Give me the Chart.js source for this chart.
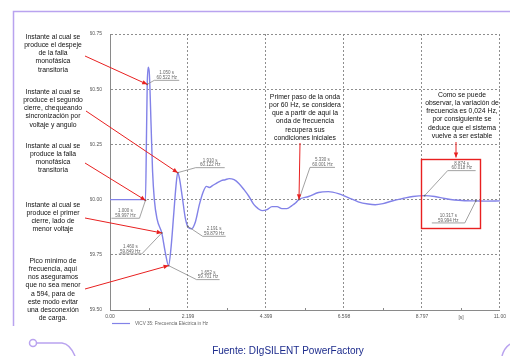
<!DOCTYPE html>
<html>
<head>
<meta charset="utf-8">
<script src="https://cdn.jsdelivr.net/npm/chart.js@4.4.1/dist/chart.umd.min.js"></script>
<style>
  html, body { margin: 0; padding: 0; background: #ffffff; }
  #wrap { position: relative; width: 510px; height: 356px; }
</style>
</head>
<body>
<div id="wrap"><canvas id="c" width="510" height="356"></canvas></div>
<script>
// Simulated frequency at bus VICV 35 (Hz) over time (s)
const times = [0, 0.5, 0.95, 1.000, 1.03, 1.050, 1.08, 1.11, 1.16, 1.20, 1.25, 1.33, 1.460, 1.56, 1.652,
  1.72, 1.80, 1.86, 1.910, 1.96, 2.04, 2.12, 2.191, 2.30, 2.41, 2.52, 2.63, 2.72, 2.80, 2.89, 3.03, 3.14,
  3.25, 3.36, 3.50, 3.64, 3.78, 3.92, 4.06, 4.17, 4.29, 4.43, 4.57, 4.71, 4.85, 4.99, 5.13, 5.24, 5.330,
  5.60, 5.88, 6.16, 6.44, 6.72, 7.00, 7.28, 7.48, 7.70, 7.98, 8.26, 8.54, 8.874, 9.16, 9.44, 9.72, 10.00,
  10.317, 10.60, 10.997];
const freqHz = [60.0, 60.0, 60.0, 59.997, 60.30, 60.522, 60.60, 60.57, 60.33, 60.13, 60.0, 59.91, 59.849, 59.76, 59.701,
  59.78, 59.94, 60.06, 60.122, 60.095, 60.01, 59.92, 59.879, 59.868, 59.90, 59.977, 60.036, 60.06, 60.055, 60.063, 60.077, 60.086,
  60.09, 60.095, 60.09, 60.072, 60.045, 60.014, 59.977, 59.96, 59.95, 59.955, 59.968, 59.968, 59.959, 59.959, 59.973, 59.986, 60.001,
  60.014, 60.032, 60.036, 60.027, 60.009, 59.99, 59.98, 59.977, 59.982, 59.995, 60.005, 60.014, 60.018, 60.014, 60.005, 59.998, 59.995,
  59.994, 59.993, 59.994];

// Marked points (time s, frequency Hz)
const markerTimes = [1.000, 1.050, 1.460, 1.652, 1.910, 2.191, 5.330, 8.874, 10.317];
const markerFreqs = [59.997, 60.522, 59.849, 59.701, 60.122, 59.879, 60.001, 60.018, 59.994];

// Axis ticks
const xTicks = [0, 2.1994, 4.3988, 6.5982, 8.7976, 10.997];
const xTickLabels = ['0.00', '2.199', '4.399', '6.598', '8.797', '11.00'];
const yTicks = [59.50, 59.75, 60.00, 60.25, 60.50, 60.75];
const yTickLabels = ['59.50', '59.75', '60.00', '60.25', '60.50', '60.75'];

const seriesName = 'VICV 35: Frecuencia Eléctrica in Hz';
const sourceText = 'Fuente: DIgSILENT PowerFactory';

// Placement of each marker's value label relative to its point (px)
const markerLabelLayout = [
  { x0: -34, x1: -6,  dy: 18,  end: 'R' },
  { x0: 7,   x1: 32,  dy: -4,  end: 'L' },
  { x0: -43, x1: -20, dy: 21,  end: 'R' },
  { x0: 28,  x1: 51,  dy: 14,  end: 'L' },
  { x0: 18,  x1: 47,  dy: -5,  end: 'L' },
  { x0: 15,  x1: 38,  dy: 10,  end: 'L' },
  { x0: 11,  x1: 36,  dy: -32, end: 'L' },
  { x0: 23,  x1: 51,  dy: -25, end: 'L' },
  { x0: -44, x1: -11, dy: 22,  end: 'R' }
];

// Explanatory notes: text lines, text centre, first line y, arrow start, index of marker pointed to
const notes = [
  { lines: ['Instante al cual se', 'produce el despeje', 'de la falla', 'monofásica', 'transitoria'],
    cx: 53, y0: 37, from: [85, 56], marker: 1 },
  { lines: ['Instante al cual se', 'produce el segundo', 'cierre, chequeando', 'sincronización por', 'voltaje y angulo'],
    cx: 53, y0: 92, from: [86, 111], marker: 4 },
  { lines: ['Instante al cual se', 'produce la falla', 'monofásica', 'transitoria'],
    cx: 53, y0: 146, from: [85, 163], marker: 0 },
  { lines: ['Instante al cual se', 'produce el primer', 'cierre, lado de', 'menor voltaje'],
    cx: 53, y0: 205, from: [85, 218], marker: 2 },
  { lines: ['Pico mínimo de', 'frecuencia, aquí', 'nos aseguramos', 'que no sea menor', 'a 594, para de',
            'este modo evitar', 'una desconexión', 'de carga.'],
    cx: 53, y0: 261, from: [85, 289], marker: 3 },
  { lines: ['Primer paso de la onda', 'por 60 Hz, se considera', 'que a partir de aquí la', 'onda de frecuencia',
            'recupera sus', 'condiciones iniciales'],
    cx: 305, y0: 97, from: [300, 143], marker: 6 }
];
const stabilityNote = ['Como se puede', 'observar, la variación de', 'frecuencia es 0,024 Hz,',
  'por consiguiente se', 'deduce que el sistema', 'vuelve a ser estable'];
// Highlighted region around the last two markers (data units)
const stabilityBox = { t0: 8.77, t1: 10.42, f0: 59.873, f1: 60.186 };

const FONT = 'Arial, "Liberation Sans", Helvetica, sans-serif';
const RED = '#e82020';
const FRAME = '#b9a3ef';
const LINE = '#8282e8';

function arrow(ctx, x1, y1, x2, y2) {
  ctx.save();
  ctx.strokeStyle = RED;
  ctx.fillStyle = RED;
  ctx.lineWidth = 1;
  ctx.beginPath();
  ctx.moveTo(x1, y1);
  ctx.lineTo(x2, y2);
  ctx.stroke();
  const a = Math.atan2(y2 - y1, x2 - x1);
  const L = 5, W = 2.2;
  ctx.beginPath();
  ctx.moveTo(x2, y2);
  ctx.lineTo(x2 - L * Math.cos(a) + W * Math.sin(a), y2 - L * Math.sin(a) - W * Math.cos(a));
  ctx.lineTo(x2 - L * Math.cos(a) - W * Math.sin(a), y2 - L * Math.sin(a) + W * Math.cos(a));
  ctx.closePath();
  ctx.fill();
  ctx.restore();
}

const decorations = {
  id: 'decorations',
  afterDraw(chart) {
    const ctx = chart.ctx;
    const xs = chart.scales.x, ys = chart.scales.y;
    const area = chart.chartArea;

    // page frame
    ctx.save();
    ctx.strokeStyle = FRAME;
    ctx.lineWidth = 1.5;
    ctx.beginPath();
    ctx.moveTo(13.5, 326);
    ctx.lineTo(13.5, 11.5);
    ctx.lineTo(510, 11.5);
    ctx.stroke();
    // bottom-left ornament
    ctx.beginPath();
    ctx.arc(33, 343, 3.5, 0, Math.PI * 2);
    ctx.stroke();
    ctx.beginPath();
    ctx.moveTo(36.5, 343);
    ctx.lineTo(62, 343);
    ctx.quadraticCurveTo(70, 344, 75, 356);
    ctx.stroke();
    // bottom-right ornament
    ctx.beginPath();
    ctx.moveTo(502, 356);
    ctx.quadraticCurveTo(504, 348, 510, 344);
    ctx.stroke();
    ctx.restore();

    // minor ticks on the time axis
    ctx.save();
    ctx.strokeStyle = '#888';
    ctx.lineWidth = 1;
    for (let i = 0; i < xTicks.length - 1; i++) {
      const px = Math.round(xs.getPixelForValue((xTicks[i] + xTicks[i + 1]) / 2)) + 0.5;
      ctx.beginPath();
      ctx.moveTo(px, area.bottom);
      ctx.lineTo(px, area.bottom - 2);
      ctx.stroke();
    }
    ctx.restore();

    // unit label on time axis
    ctx.save();
    ctx.fillStyle = '#555';
    ctx.font = '5px ' + FONT;
    ctx.textAlign = 'center';
    ctx.textBaseline = 'top';
    ctx.fillText('[s]', xs.getPixelForValue(9.9), area.bottom + 5);
    ctx.restore();

    // legend
    ctx.save();
    ctx.strokeStyle = LINE;
    ctx.lineWidth = 1.2;
    ctx.beginPath();
    ctx.moveTo(112, 323.5);
    ctx.lineTo(130, 323.5);
    ctx.stroke();
    ctx.fillStyle = '#666';
    ctx.font = '4.6px ' + FONT;
    ctx.textBaseline = 'middle';
    ctx.fillText(seriesName, 135, 323.5);
    ctx.restore();

    // marker value labels
    ctx.save();
    ctx.strokeStyle = '#8a8a8a';
    ctx.fillStyle = '#666';
    ctx.lineWidth = 0.8;
    ctx.font = '4.5px ' + FONT;
    ctx.textAlign = 'center';
    ctx.textBaseline = 'alphabetic';
    markerTimes.forEach((t, i) => {
      const px = xs.getPixelForValue(t);
      const py = ys.getPixelForValue(markerFreqs[i]);
      const lay = markerLabelLayout[i];
      const ux0 = px + lay.x0, ux1 = px + lay.x1, uy = py + lay.dy;
      ctx.beginPath();
      ctx.moveTo(px, py);
      ctx.lineTo(lay.end === 'L' ? ux0 : ux1, uy);
      ctx.moveTo(ux0, uy);
      ctx.lineTo(ux1, uy);
      ctx.stroke();
      const cx = (ux0 + ux1) / 2;
      ctx.fillText(t.toFixed(3) + ' s', cx, uy - 6);
      ctx.fillText(markerFreqs[i].toFixed(3) + ' Hz', cx, uy - 1.2);
      ctx.beginPath();
      ctx.arc(px, py, 0.9, 0, Math.PI * 2);
      ctx.fill();
    });
    ctx.restore();

    // notes with arrows
    ctx.save();
    ctx.fillStyle = '#111';
    ctx.font = '6.8px ' + FONT;
    ctx.textAlign = 'center';
    ctx.textBaseline = 'middle';
    notes.forEach(n => {
      n.lines.forEach((s, k) => ctx.fillText(s, n.cx, n.y0 + k * 8.2));
      const tx = xs.getPixelForValue(markerTimes[n.marker]);
      const ty = ys.getPixelForValue(markerFreqs[n.marker]);
      arrow(ctx, n.from[0], n.from[1], tx, ty);
    });
    stabilityNote.forEach((s, k) => ctx.fillText(s, 462, 95 + k * 8.2));
    ctx.restore();

    // highlighted stable region
    const bx0 = xs.getPixelForValue(stabilityBox.t0), bx1 = xs.getPixelForValue(stabilityBox.t1);
    const by0 = ys.getPixelForValue(stabilityBox.f1), by1 = ys.getPixelForValue(stabilityBox.f0);
    ctx.save();
    ctx.strokeStyle = RED;
    ctx.lineWidth = 1.4;
    ctx.strokeRect(Math.round(bx0) + 0.5, Math.round(by0) + 0.5, Math.round(bx1 - bx0), Math.round(by1 - by0));
    ctx.restore();
    arrow(ctx, 456, 142, 456, by0 - 1);

    // source line
    ctx.save();
    ctx.fillStyle = '#1c2b8c';
    ctx.font = '10px ' + FONT;
    ctx.textAlign = 'center';
    ctx.textBaseline = 'alphabetic';
    ctx.fillText(sourceText, 288, 354);
    ctx.restore();
  }
};

const gridOpts = { color: '#8e8e8e', lineWidth: 1, drawTicks: false };
const borderOpts = { display: true, color: '#8a8a8a', width: 1, dash: [2, 2] };

new Chart(document.getElementById('c').getContext('2d'), {
  type: 'line',
  data: {
    datasets: [{
      label: seriesName,
      data: times.map((t, i) => ({ x: t, y: freqHz[i] })),
      borderColor: LINE,
      borderWidth: 1.4,
      pointRadius: 0,
      fill: false,
      cubicInterpolationMode: 'monotone'
    }]
  },
  options: {
    responsive: false,
    animation: false,
    devicePixelRatio: 1,
    layout: { padding: { left: 90, right: 10, top: 34, bottom: 30 } },
    plugins: { legend: { display: false }, tooltip: { enabled: false } },
    scales: {
      x: {
        type: 'linear',
        min: 0,
        max: 10.997,
        afterBuildTicks: s => { s.ticks = xTicks.map(v => ({ value: v })); },
        afterFit: s => { s.height = 16; },
        ticks: {
          callback: (v, i) => xTickLabels[i],
          font: { size: 5, family: FONT },
          color: '#555',
          padding: 4,
          maxRotation: 0,
          autoSkip: false
        },
        grid: gridOpts,
        border: borderOpts
      },
      y: {
        type: 'linear',
        min: 59.5,
        max: 60.75,
        afterBuildTicks: s => { s.ticks = yTicks.map(v => ({ value: v })); },
        afterFit: s => { s.width = 20; },
        ticks: {
          callback: (v, i) => yTickLabels[i],
          font: { size: 5, family: FONT },
          color: '#555',
          padding: 8,
          autoSkip: false
        },
        grid: gridOpts,
        border: borderOpts
      }
    }
  },
  plugins: [decorations]
});
</script>
</body>
</html>
